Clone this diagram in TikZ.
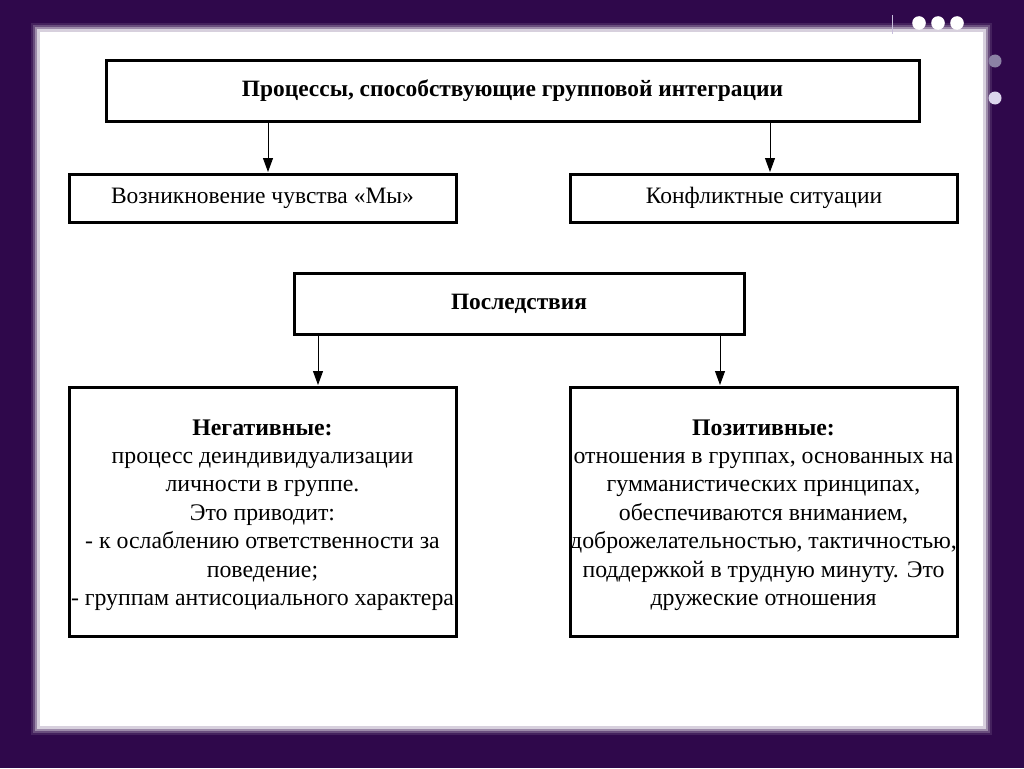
\documentclass[tikz,border=0pt]{standalone}
\usepackage{fontspec}
\setmainfont{Liberation Serif}
\usetikzlibrary{arrows.meta}
\definecolor{bgpurple}{RGB}{47,8,75}
\definecolor{dotgray}{RGB}{140,130,165}
\definecolor{dotlight}{RGB}{220,214,236}
\definecolor{linelav}{RGB}{200,190,220}
\tikzset{
  box/.style={draw=black, line width=3pt, fill=white, inner sep=0pt},
  conn/.style={draw=black, line width=0.9pt, -{Triangle[length=14pt,width=10pt]}},
  bodytext/.style={align=center, inner sep=0pt, font=\fontsize{23.8}{28.4}\selectfont},
  singletext/.style={font=\fontsize{23.5}{28}\selectfont},
  boldtext/.style={font=\fontsize{23.4}{28}\selectfont\bfseries},
}
\begin{document}
\begin{tikzpicture}[x=1pt,y=-1pt]
\useasboundingbox (0,0) rectangle (1024,768);
\fill[bgpurple] (0,0) rectangle (1024,768);
% blurred white panel
\fill[white, opacity=0.1] (31,23) rectangle (992,735);
\fill[white, opacity=0.2] (33,25) rectangle (990,733);
\fill[white, opacity=0.35] (35,27) rectangle (988,731);
\fill[white, opacity=0.6] (37,29) rectangle (986,729);
\fill[white] (40,32) rectangle (983,726);
% decorations
\fill[white] (919,23) circle (6.8);
\fill[white] (938,23) circle (6.8);
\fill[white] (957,23) circle (6.8);
\fill[dotgray] (995,61) circle (6.5);
\fill[dotlight] (995,98) circle (6.5);
\draw[linelav, line width=1pt] (892,15) -- (892,34);

% boxes
\node[box, minimum width=813, minimum height=61, boldtext] (top) at (512.5,91) {Процессы, способствующие групповой интеграции};
\node[box, minimum width=387, minimum height=48, singletext] (we) at (262.5,198) {Возникновение чувства «Мы»};
\node[box, minimum width=387, minimum height=48, singletext] (conf) at (764,198) {Конфликтные ситуации};
\node[box, minimum width=450, minimum height=61, boldtext] (cons) at (519,304) {Последствия};
\node[box, minimum width=387, minimum height=249] (neg) at (262.5,511.5) {};
\node[box, minimum width=387, minimum height=249] (pos) at (764,511.5) {};

\node[bodytext] (negtext) at (262.5,515) {\textbf{Негативные:}\\процесс деиндивидуализации\\личности в группе.\\Это приводит:\\- к ослаблению ответственности за\\поведение;\\- группам антисоциального характера};
\node[bodytext] (postext) at (763.5,515) {\textbf{Позитивные:}\\отношения в группах, основанных на\\гумманистических принципах,\\обеспечиваются вниманием,\\доброжелательностью, тактичностью,\\поддержкой в трудную минуту. Это\\дружеские отношения};

% connectors
\coordinate (a1) at (268,172);
\coordinate (a2) at (770,172);
\coordinate (a3) at (318,385);
\coordinate (a4) at (720,385);
\draw[conn] (top.south -| a1) -- (a1);
\draw[conn] (top.south -| a2) -- (a2);
\draw[conn] (cons.south -| a3) -- (a3);
\draw[conn] (cons.south -| a4) -- (a4);
\end{tikzpicture}
\end{document}
